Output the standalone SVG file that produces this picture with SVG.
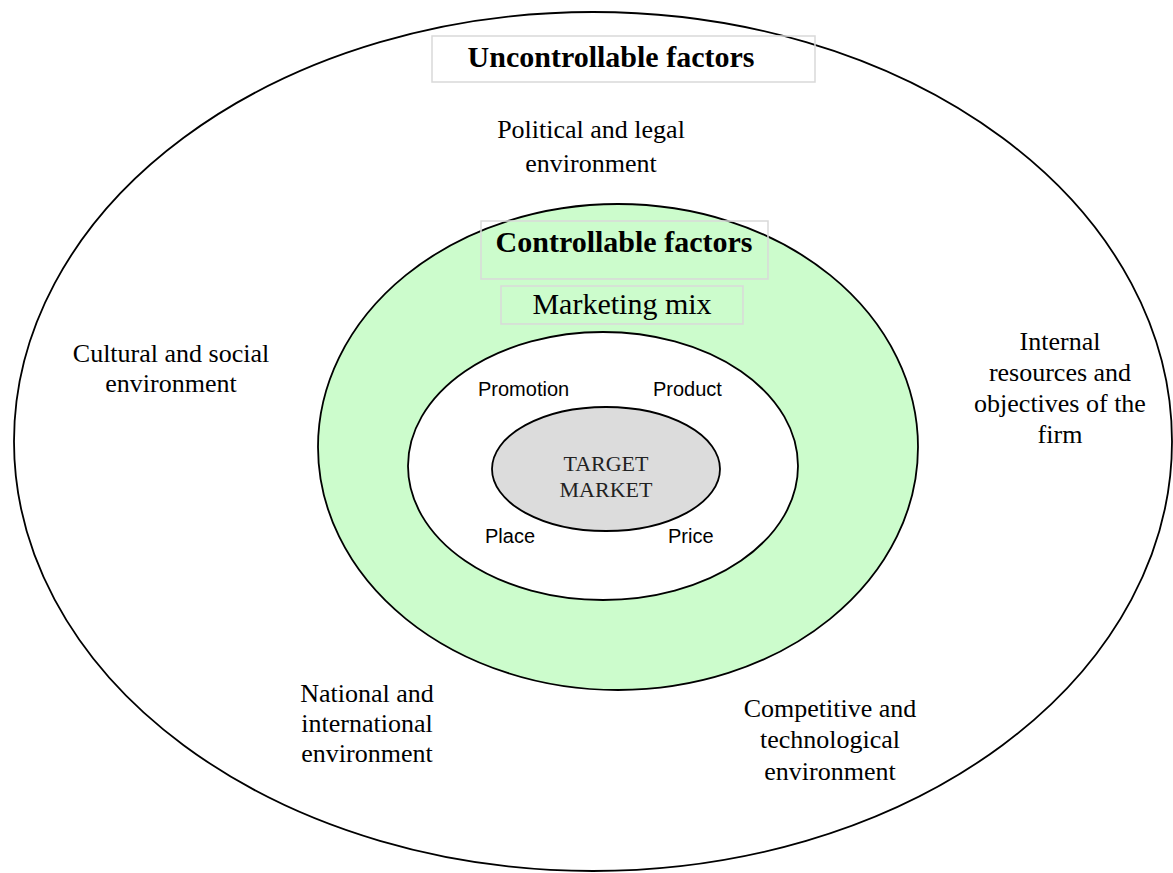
<svg xmlns="http://www.w3.org/2000/svg" width="1173" height="873" viewBox="0 0 1173 873">
<style>
.ring{stroke:#000;stroke-width:1.8}
.box{fill:none;stroke:#d9d9d9;stroke-width:1.5}
.ser{font-family:"Liberation Serif","Times New Roman",serif;fill:#000}
.env{font-size:26px;text-anchor:middle}
.title{font-size:30px;font-weight:bold;text-anchor:middle}
.mix{font-size:30px;text-anchor:middle}
.p4{font-family:"Liberation Sans",Arial,sans-serif;font-size:20px;fill:#000}
.tm{font-size:22px;text-anchor:middle;fill:#222}
</style>
<rect width="1173" height="873" fill="#fff"/>
<g id="uncontrollable">
<ellipse class="ring" cx="593" cy="441.5" rx="579" ry="429.5" fill="#fff"/>
<rect class="box" x="432" y="36" width="383" height="46"/>
<text class="ser title" x="611" y="67">Uncontrollable factors</text>
</g>
<g id="env-political">
<text class="ser env" x="591" y="138">Political and legal</text>
<text class="ser env" x="591" y="172">environment</text>
</g>
<g id="env-cultural">
<text class="ser env" x="171" y="362">Cultural and social</text>
<text class="ser env" x="171" y="392">environment</text>
</g>
<g id="env-internal">
<text class="ser env" x="1060" y="350">Internal</text>
<text class="ser env" x="1060" y="381">resources and</text>
<text class="ser env" x="1060" y="412">objectives of the</text>
<text class="ser env" x="1060" y="443">firm</text>
</g>
<g id="env-national">
<text class="ser env" x="367" y="702">National and</text>
<text class="ser env" x="367" y="732">international</text>
<text class="ser env" x="367" y="762">environment</text>
</g>
<g id="env-competitive">
<text class="ser env" x="830" y="717">Competitive and</text>
<text class="ser env" x="830" y="748">technological</text>
<text class="ser env" x="830" y="780">environment</text>
</g>
<g id="controllable">
<ellipse class="ring" cx="618" cy="447" rx="300" ry="243" fill="#ccfccc"/>
<rect class="box" x="481" y="221" width="287" height="58"/>
<text class="ser title" x="624" y="252">Controllable factors</text>
<rect class="box" x="501" y="286" width="242" height="38"/>
<text class="ser mix" x="622" y="314">Marketing mix</text>
</g>
<g id="marketing-mix">
<ellipse class="ring" cx="603" cy="466" rx="195" ry="134" fill="#fff"/>
<text class="p4" x="478" y="396">Promotion</text>
<text class="p4" x="653" y="396">Product</text>
<text class="p4" x="485" y="543">Place</text>
<text class="p4" x="668" y="543">Price</text>
</g>
<g id="target-market">
<ellipse class="ring" cx="606" cy="469" rx="114" ry="62" fill="#dcdcdc"/>
<text class="ser tm" x="606" y="471">TARGET</text>
<text class="ser tm" x="606" y="497">MARKET</text>
</g>
<g id="connectors"/>
</svg>
